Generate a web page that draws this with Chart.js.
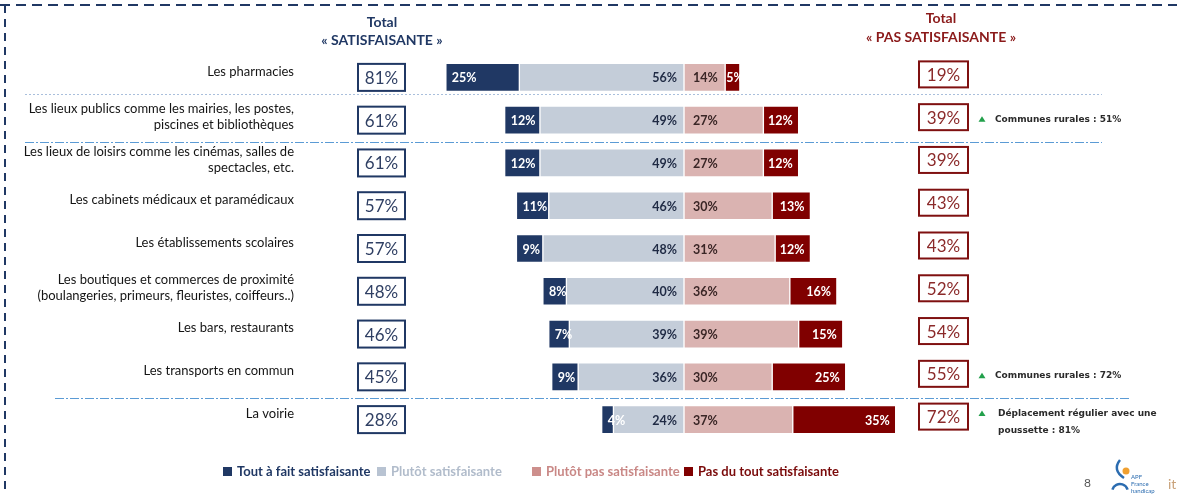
<!DOCTYPE html>
<html lang="fr">
<head>
<meta charset="utf-8">
<title>Satisfaction - accessibilité des lieux</title>
<script src="https://cdn.jsdelivr.net/npm/chart.js"></script>
<style>
  html, body { margin: 0; padding: 0; background: #fff; }
  #wrap { position: relative; width: 1177px; height: 494px; }
</style>
</head>
<body>
<div id="wrap"><canvas id="chart_main" width="1177" height="494"></canvas></div>
<script>
// données
const categories = [
  ['Les pharmacies'],
  ['Les lieux publics comme les mairies, les postes,', 'piscines et bibliothèques'],
  ['Les lieux de loisirs comme les cinémas, salles de', 'spectacles, etc.'],
  ['Les cabinets médicaux et paramédicaux'],
  ['Les établissements scolaires'],
  ['Les boutiques et commerces de proximité', '(boulangeries, primeurs, fleuristes, coiffeurs..)'],
  ['Les bars, restaurants'],
  ['Les transports en commun'],
  ['La voirie']
]
const tout_a_fait = [25, 12, 12, 11, 9, 8, 7, 9, 4]
const plutot_sat = [56, 49, 49, 46, 48, 40, 39, 36, 24]
const plutot_pas = [14, 27, 27, 30, 31, 36, 39, 30, 37]
const pas_du_tout = [5, 12, 12, 13, 12, 16, 15, 25, 35]
const total_sat = [81, 61, 61, 57, 57, 48, 46, 45, 28]
const total_pas = [19, 39, 39, 43, 43, 52, 54, 55, 72]
const notes = [
  null,
  ['Communes rurales : 51%'],
  null, null, null, null, null,
  ['Communes rurales : 72%'],
  ['Déplacement régulier avec une', 'poussette : 81%']
]
const legend_labels = ['Tout à fait satisfaisante', 'Plutôt satisfaisante', 'Plutôt pas satisfaisante', 'Pas du tout satisfaisante']
const header_left = ['Total', '« SATISFAISANTE »']
const header_right = ['Total', '« PAS SATISFAISANTE »']

const NAVY = '#203864'
const LIGHT = '#c4cdd9'
const PINK = '#dab3b1'
const DARKRED = '#800000'
const FONT = 'Lato, "Liberation Sans", sans-serif'

;(()=>{
  const overlay = {
    id: 'overlay',
    afterDatasetsDraw(chart){
      const ctx = chart.ctx
      ctx.save()
      ctx.font = 'bold 12.5px ' + FONT
      ctx.textBaseline = 'middle'
      chart.data.datasets.forEach((ds, di) => {
        chart.getDatasetMeta(di).data.forEach((bar, i) => {
          const left = Math.min(bar.x, bar.base)
          const right = Math.max(bar.x, bar.base)
          const txt = Math.abs(ds.data[i]) + '%'
          ctx.fillStyle = ds.lblColor
          ctx.textAlign = ds.lblAlign
          let x
          if(ds.lblAlign === 'left'){
            x = left + ds.lblPad
          }
          else{
            // ne pas déborder à gauche du segment quand il est étroit
            x = Math.max(right - ds.lblPad, left + ctx.measureText(txt).width + 1)
          }
          ctx.fillText(txt, x, bar.y + 1)
        })
      })
      ctx.restore()
    },
    afterDraw(chart){
      const ctx = chart.ctx
      const y = chart.scales.y
      ctx.save()

      // cadre en pointillés
      ctx.strokeStyle = NAVY
      ctx.lineWidth = 2
      ctx.setLineDash([10, 6])
      ctx.beginPath(); ctx.moveTo(0, 5); ctx.lineTo(1177, 5); ctx.stroke()
      ctx.setLineDash([8, 6])
      ctx.beginPath(); ctx.moveTo(5, 5); ctx.lineTo(5, 494); ctx.stroke()

      // séparateurs
      ctx.lineWidth = 1
      ctx.strokeStyle = '#a9bfdc'
      ctx.setLineDash([2, 2])
      ctx.beginPath(); ctx.moveTo(25, 94.5); ctx.lineTo(1102, 94.5); ctx.stroke()
      ctx.strokeStyle = '#5b9bd5'
      ctx.setLineDash([9, 2, 2, 2])
      ctx.beginPath(); ctx.moveTo(25, 142.5); ctx.lineTo(1102, 142.5); ctx.stroke()
      ctx.beginPath(); ctx.moveTo(55, 398.5); ctx.lineTo(1130, 398.5); ctx.stroke()
      ctx.setLineDash([])

      // en-têtes
      ctx.textAlign = 'center'
      ctx.textBaseline = 'middle'
      ctx.font = 'bold 14px ' + FONT
      ctx.fillStyle = NAVY
      ctx.fillText(header_left[0], 382, 22)
      ctx.fillText(header_left[1], 382, 40)
      ctx.fillStyle = '#8b1a1a'
      ctx.fillText(header_right[0], 941, 18)
      ctx.fillText(header_right[1], 941, 37)

      categories.forEach((lines, i) => {
        const cy = y.getPixelForValue(i)

        // libellés
        ctx.textAlign = 'right'
        ctx.font = '13px ' + FONT
        ctx.fillStyle = '#141414'
        if(lines.length === 1){
          ctx.fillText(lines[0], 294, cy - 6)
        }
        else{
          ctx.fillText(lines[0], 294, cy - 11)
          ctx.fillText(lines[1], 294, cy + 5)
        }

        // cases totaux
        ctx.lineWidth = 2
        ctx.strokeStyle = NAVY
        ctx.strokeRect(358, cy - 13.5, 47, 27)
        ctx.strokeStyle = '#7f1010'
        ctx.strokeRect(919, cy - 16, 49, 26)
        ctx.textAlign = 'center'
        ctx.font = '17px ' + FONT
        ctx.fillStyle = '#2f3f63'
        ctx.fillText(total_sat[i] + '%', 381.5, cy + 1)
        ctx.fillStyle = '#8b2a2a'
        ctx.fillText(total_pas[i] + '%', 943.5, cy - 2)

        // remarques
        if(notes[i]){
          const ny = notes[i].length === 1 ? cy - 1 : cy - 6
          ctx.fillStyle = '#22a04b'
          ctx.beginPath()
          ctx.moveTo(982, ny - 3); ctx.lineTo(985.5, ny + 2.5); ctx.lineTo(978.5, ny + 2.5)
          ctx.closePath(); ctx.fill()
          ctx.textAlign = 'left'
          ctx.font = 'bold 9px "DejaVu Sans", sans-serif'
          ctx.fillStyle = '#2a2a2a'
          notes[i].forEach((t, k) => ctx.fillText(t, notes[i].length === 1 ? 995 : 998, ny + k * 17))
        }
      })

      // légende
      const leg_x = [223, 377, 532, 684]
      const leg_sq = [NAVY, '#b8c3d2', '#cd8f8c', DARKRED]
      const leg_txt = [NAVY, '#b1bccb', '#c98886', '#7a0a0a']
      ctx.font = 'bold 13px ' + FONT
      ctx.textAlign = 'left'
      legend_labels.forEach((t, k) => {
        ctx.fillStyle = leg_sq[k]
        ctx.fillRect(leg_x[k], 467, 9, 9)
        ctx.fillStyle = leg_txt[k]
        ctx.fillText(t, leg_x[k] + 14, 472)
      })

      // numéro de page + logo
      ctx.font = '12px ' + FONT
      ctx.fillStyle = '#555'
      ctx.fillText('8', 1084, 483)
      ctx.fillStyle = '#f0a030'
      ctx.beginPath(); ctx.arc(1126, 471, 3.5, 0, Math.PI * 2); ctx.fill()
      ctx.strokeStyle = '#2b6cb0'
      ctx.lineWidth = 2.5
      ctx.beginPath(); ctx.moveTo(1120, 460); ctx.quadraticCurveTo(1112, 470, 1124, 478); ctx.stroke()
      ctx.beginPath(); ctx.arc(1120, 492, 8, Math.PI * 1.1, Math.PI * 1.9); ctx.stroke()
      ctx.font = '6px ' + FONT
      ctx.fillStyle = '#2b6cb0'
      ctx.fillText('APF', 1131, 477)
      ctx.fillText('France', 1131, 484)
      ctx.fillText('handicap', 1131, 491)
      ctx.font = '14px ' + FONT
      ctx.fillStyle = '#c9a27a'
      ctx.fillText('it', 1168, 484)

      ctx.restore()
    }
  }

  new Chart(document.getElementById('chart_main'), {
    type: 'bar',
    data: {
      labels: categories,
      datasets: [
        {
          label: legend_labels[1],
          data: plutot_sat.map(v => -v),
          backgroundColor: LIGHT,
          lblColor: '#1f2a44', lblAlign: 'right', lblPad: 7
        },
        {
          label: legend_labels[0],
          data: tout_a_fait.map(v => -v),
          backgroundColor: NAVY,
          lblColor: '#ffffff', lblAlign: 'left', lblPad: 6
        },
        {
          label: legend_labels[2],
          data: plutot_pas,
          backgroundColor: PINK,
          lblColor: '#3a2626', lblAlign: 'left', lblPad: 9
        },
        {
          label: legend_labels[3],
          data: pas_du_tout,
          backgroundColor: DARKRED,
          lblColor: '#ffffff', lblAlign: 'right', lblPad: 6
        }
      ]
    },
    options: {
      indexAxis: 'y',
      responsive: false,
      animation: false,
      layout: { padding: { left: 390, right: 199, top: 56, bottom: 53 } },
      datasets: {
        bar: { barThickness: 28, borderColor: '#ffffff', borderWidth: 1, borderSkipped: false }
      },
      scales: {
        x: { stacked: true, min: -100, max: 100, display: false },
        y: { stacked: true, display: false }
      },
      plugins: {
        legend: { display: false },
        tooltip: { enabled: false }
      }
    },
    plugins: [overlay]
  })
})()
</script>
</body>
</html>
